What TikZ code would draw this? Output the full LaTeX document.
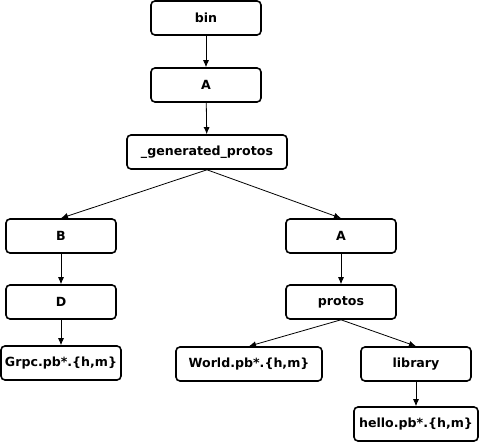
\documentclass[tikz,border=0pt]{standalone}
\usepackage{fontspec}
\setmainfont{DejaVu Sans}
\usetikzlibrary{arrows.meta}
\begin{document}
\begin{tikzpicture}[x=1pt,y=-1pt,
box/.style={draw, line width=1.6pt, rounded corners=4pt, minimum height=34pt, minimum width=110pt, inner sep=0pt, font=\fontsize{12.6}{14}\selectfont\bfseries},
link/.style={-{Latex[length=7pt,width=6pt]}, line width=0.8pt}]
\useasboundingbox (0,0) rectangle (480,443);
% left branch
\node[box] (bin) at (206,18) {bin};
\node[box] (a) at (206,85) {A};
\node[box, minimum width=160pt] (gen) at (207,152) {\_generated\_protos};
\node[box] (b) at (61,236) {B};
\node[box] (d) at (61,302) {D};
\node[box, minimum width=120pt] (grpc) at (61,363) {Grpc.pb*.\{h,m\}};
% right branch
\node[box] (a2) at (341,236) {A};
\node[box] (protos) at (341,302) {protos};
\node[box, minimum width=146pt] (world) at (249,364) {World.pb*.\{h,m\}};
\node[box] (library) at (416,364) {library};
\node[box, minimum width=124pt] (hello) at (416,424) {hello.pb*.\{h,m\}};
\draw[link] (bin) -- (a);
\draw[link] (a) -- (gen);
\draw[link] (gen.south) -- (b.north);
\draw[link] (gen.south) -- (a2.north);
\draw[link] (b) -- (d);
\draw[link] (d) -- (grpc);
\draw[link] (a2) -- (protos);
\draw[link] (protos.south) -- (world.north);
\draw[link] (protos.south) -- (library.north);
\draw[link] (library) -- (hello);
\end{tikzpicture}
\end{document}
